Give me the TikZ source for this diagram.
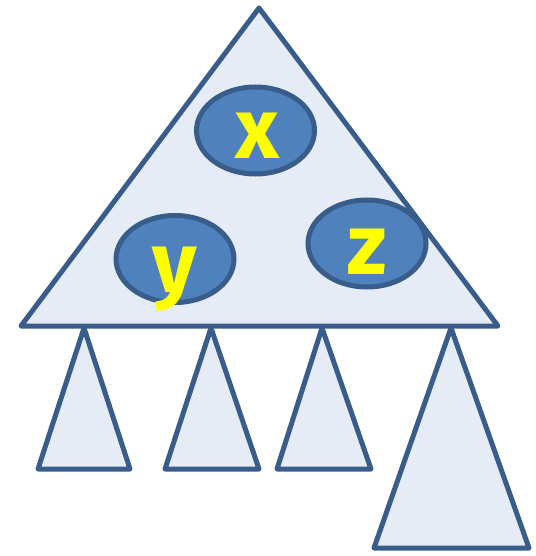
\documentclass[tikz,border=0pt]{standalone}
\usepackage{fontspec}
\setmainfont{Fira Sans}
\usetikzlibrary{shapes.geometric}
\definecolor{edge}{HTML}{385D8A}
\definecolor{pale}{HTML}{E6ECF5}
\definecolor{blob}{HTML}{4F81BD}
\definecolor{lett}{HTML}{FFFF00}
\tikzset{
  tri/.style={draw=edge, fill=pale, line width=5bp, line join=round},
  key/.style={ellipse, draw=edge, fill=blob, line width=5bp, inner sep=0pt,
    minimum width=118bp, minimum height=87bp},
  lbl/.style={text=lett, font=\fontsize{86}{86}\selectfont\bfseries, inner sep=0pt, anchor=base}
}
\begin{document}
\begin{tikzpicture}[x=1bp, y=-1bp]
\useasboundingbox (0,0) rectangle (536,556);
% big triangle
\coordinate (A) at (259,8);
\coordinate (L) at (21,326);
\coordinate (R) at (498,326);
\draw[tri] (A) -- (L) -- (R) -- cycle;
% keys
\node[key] (kx) at (255.5,130.5) {};
\node[key] (ky) at (175,259) {};
\node[key] (kz) at (367,243.5) {};
\node[lbl] (tx) at (257,159) {x};
\node[lbl] (ty) at (175,292) {y};
\node[lbl] (tz) at (367,274) {z};
% subtrees
\coordinate (a1) at (84,328); \coordinate (l1) at (38,469); \coordinate (r1) at (130,469);
\coordinate (a2) at (211,328); \coordinate (l2) at (165,469); \coordinate (r2) at (259,469);
\coordinate (a3) at (322,328); \coordinate (l3) at (277,469); \coordinate (r3) at (371,469);
\coordinate (a4) at (451,328); \coordinate (l4) at (374,548); \coordinate (r4) at (529,548);
\draw[tri] (a1) -- (l1) -- (r1) -- cycle;
\draw[tri] (a2) -- (l2) -- (r2) -- cycle;
\draw[tri] (a3) -- (l3) -- (r3) -- cycle;
\draw[tri] (a4) -- (l4) -- (r4) -- cycle;
\end{tikzpicture}
\end{document}
